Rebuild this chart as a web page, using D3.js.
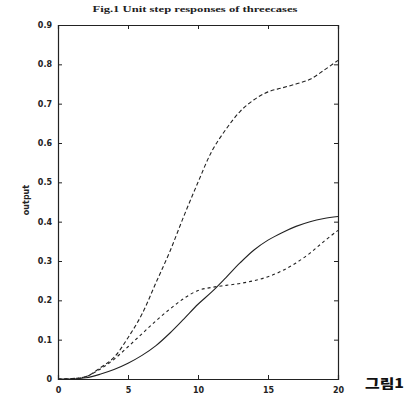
<!DOCTYPE html>
<html>
<head>
<meta charset="utf-8">
<script src="https://cdn.jsdelivr.net/npm/d3@7"></script>
<style>
body { margin: 0; background: #fff; }
</style>
</head>
<body>
<svg id="chart"></svg>
<script>
// time axis (s)
var tValues = [0, 1, 2, 3, 4, 5, 6, 7, 8, 9, 10, 11, 12, 13, 14, 15, 16, 17, 18, 19, 20];
// case 1 - long dash (top curve)
var case1 = [0, 0.001, 0.006, 0.028, 0.055, 0.105, 0.165, 0.245, 0.325, 0.415, 0.5, 0.58, 0.635, 0.68, 0.71, 0.73, 0.74, 0.75, 0.762, 0.785, 0.81];
// case 2 - short dash
var case2 = [0, 0.001, 0.006, 0.025, 0.05, 0.082, 0.115, 0.148, 0.178, 0.205, 0.225, 0.233, 0.238, 0.243, 0.25, 0.26, 0.275, 0.295, 0.32, 0.35, 0.378];
// case 3 - solid
var case3 = [0, 0, 0.003, 0.012, 0.024, 0.04, 0.06, 0.085, 0.117, 0.153, 0.19, 0.222, 0.258, 0.295, 0.328, 0.353, 0.372, 0.388, 0.4, 0.408, 0.413];

var xTicks = [0, 5, 10, 15, 20];
var yTicks = [0, 0.1, 0.2, 0.3, 0.4, 0.5, 0.6, 0.7, 0.8, 0.9];

var svgWidth = 408, svgHeight = 396;
var margin = { top: 25, right: 70, bottom: 17, left: 58 };
var width = svgWidth - margin.left - margin.right;
var height = svgHeight - margin.top - margin.bottom;

var svg = d3.select('#chart')
    .attr("width", svgWidth)
    .attr("height", svgHeight)
    .style("font-family", "'Liberation Serif', 'DejaVu Serif', serif");

var g = svg.append("g")
    .attr("transform", "translate(" + margin.left + "," + margin.top + ")");

var x = d3.scaleLinear().domain([0, 20]).range([0, width]);
var y = d3.scaleLinear().domain([0, 0.9]).range([height, 0]);

var fmtY = function(d) { return d === 0 ? "0" : d3.format(".1f")(d); };

// bottom / left axes with inward ticks
var xAxis = g.append("g")
    .attr("transform", "translate(0," + height + ")")
    .call(d3.axisBottom(x).tickValues(xTicks).tickSize(-4).tickPadding(8).tickFormat(d3.format("d")));
var yAxis = g.append("g")
    .call(d3.axisLeft(y).tickValues(yTicks).tickSize(-4).tickPadding(6).tickFormat(fmtY));
// mirror ticks top / right
var xTop = g.append("g")
    .call(d3.axisTop(x).tickValues(xTicks).tickSize(-4).tickFormat(""));
var yRight = g.append("g")
    .attr("transform", "translate(" + width + ",0)")
    .call(d3.axisRight(y).tickValues(yTicks).tickSize(-4).tickFormat(""));

[xAxis, yAxis, xTop, yRight].forEach(function(a) {
    a.selectAll(".domain").attr("stroke", "#222").attr("stroke-width", 1.2);
    a.selectAll(".tick line").attr("stroke", "#222");
    a.selectAll("text")
        .attr("fill", "#222")
        .style("font-size", "8px")
        .style("font-weight", "bold")
        .style("font-family", "'DejaVu Sans', sans-serif");
});

function series(vals) {
    return tValues.map(function(t, i) { return { t: t, v: vals[i] }; });
}

var line = d3.line()
    .x(function(d) { return x(d.t); })
    .y(function(d) { return y(d.v); })
    .curve(d3.curveCatmullRom.alpha(0.5));

g.append("path")
    .datum(series(case1))
    .attr("fill", "none")
    .attr("stroke", "#222")
    .attr("stroke-width", 1.1)
    .attr("stroke-dasharray", "4,2.5")
    .attr("d", line);

g.append("path")
    .datum(series(case2))
    .attr("fill", "none")
    .attr("stroke", "#222")
    .attr("stroke-width", 1.1)
    .attr("stroke-dasharray", "3,3")
    .attr("d", line);

g.append("path")
    .datum(series(case3))
    .attr("fill", "none")
    .attr("stroke", "#222")
    .attr("stroke-width", 1.1)
    .attr("d", line);

// title
svg.append("text")
    .attr("x", 195)
    .attr("y", 12)
    .attr("text-anchor", "middle")
    .attr("textLength", 205)
    .attr("lengthAdjust", "spacingAndGlyphs")
    .style("font-size", "9px")
    .style("font-weight", "bold")
    .attr("fill", "#222")
    .text("Fig.1 Unit step responses of threecases");

// y label
svg.append("text")
    .attr("transform", "translate(29,200) rotate(-90)")
    .attr("text-anchor", "middle")
    .style("font-size", "8px")
    .style("font-family", "'DejaVu Sans', sans-serif")
    .style("font-weight", "bold")
    .attr("fill", "#222")
    .text("output");

// Korean caption
svg.append("text")
    .attr("x", 365)
    .attr("y", 388)
    .attr("textLength", 39)
    .attr("lengthAdjust", "spacingAndGlyphs")
    .style("font-size", "13px")
    .style("font-weight", "900")
    .style("font-family", "'Noto Sans CJK KR', sans-serif")
    .attr("fill", "#111")
    .text("그림1");
</script>
</body>
</html>
